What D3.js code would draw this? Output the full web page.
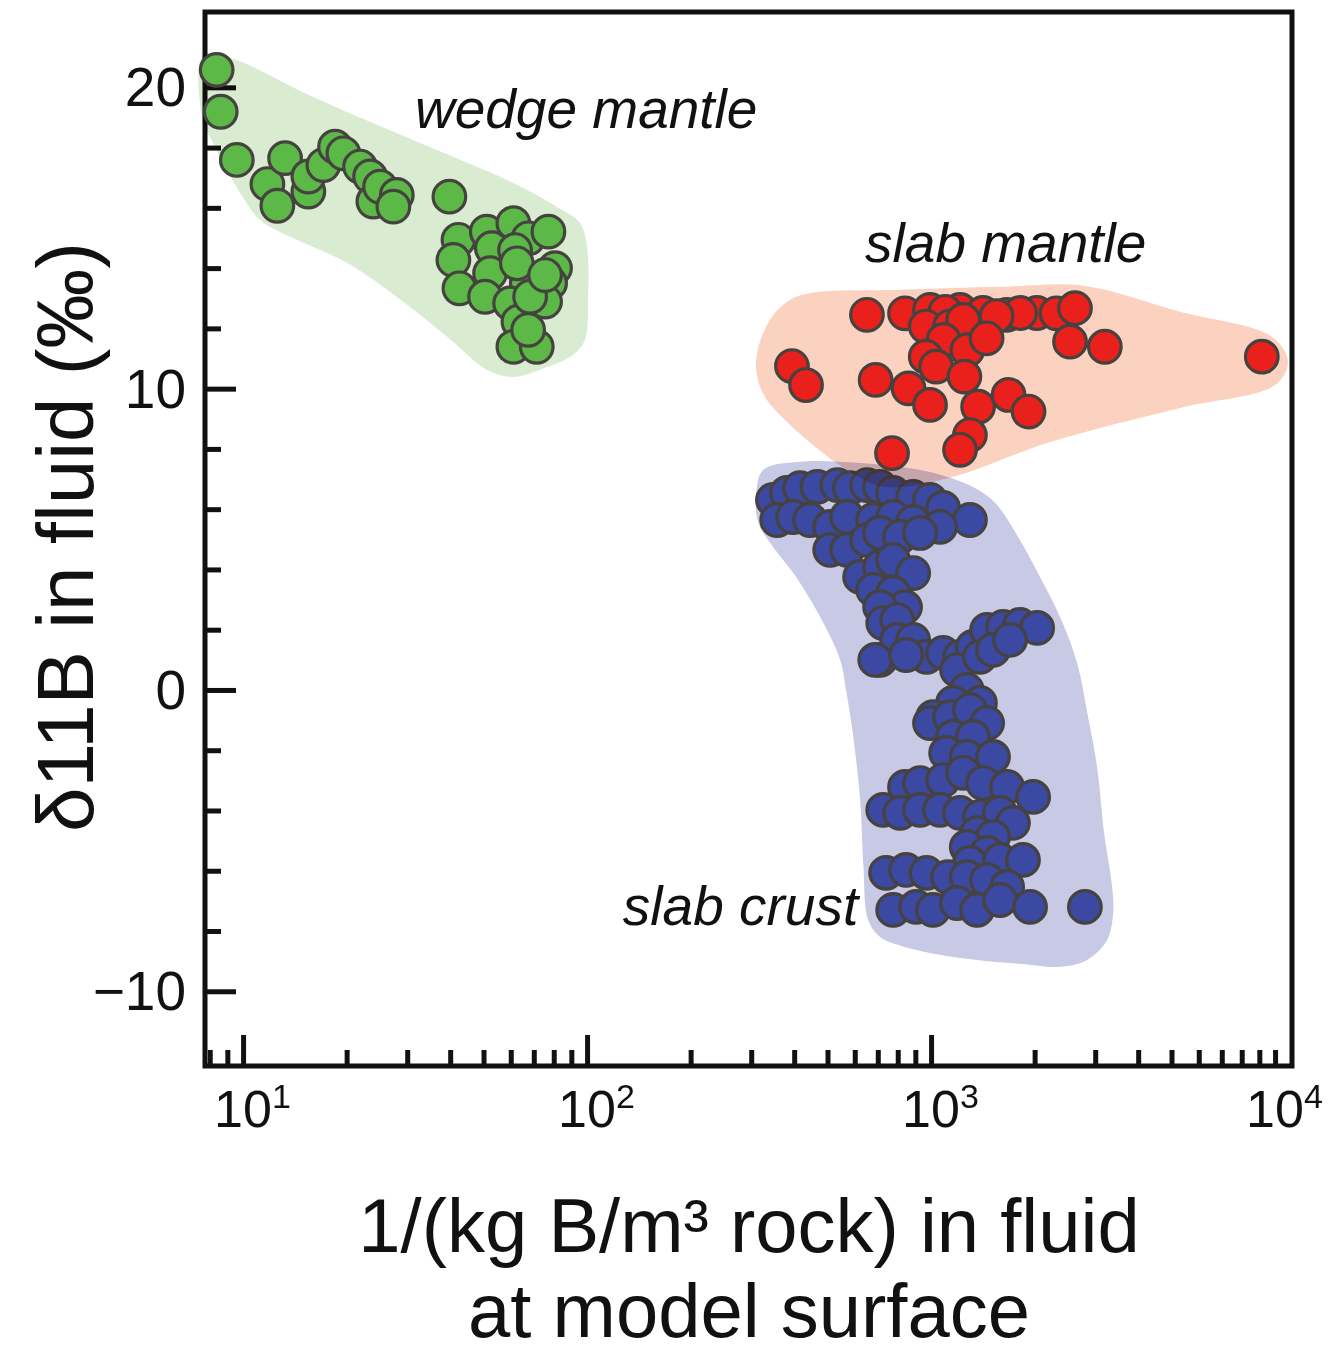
<!DOCTYPE html>
<html>
<head>
<meta charset="utf-8">
<script src="https://cdn.jsdelivr.net/npm/d3@7/dist/d3.min.js"></script>
<style>
  body { margin: 0; background: #fff; }
  text { font-family: "Liberation Sans", Arial, Helvetica, sans-serif; fill: #111; }
</style>
</head>
<body>
<div id="chart"></div>
<script>
// values: [1/(kg B/m3 rock), d11B permil]
var wedgeMantle = [
  [8.38,20.58],[8.61,19.19],[9.59,17.59],[11.77,16.79],[12.58,16.07],[13.25,17.65],
  [15.48,16.54],[15.48,17.04],[17.12,17.42],[18.51,18.03],[19.57,17.81],[21.88,17.37],
  [23.40,17.04],[23.92,16.21],[25.02,16.70],[27.98,16.43],[27.35,16.04],[39.79,16.37],
  [42.27,14.94],[40.87,14.27],[42.55,13.33],[51.1,15.21],[52.84,14.66],[52.24,13.83],
  [50.52,13.05],[61.06,15.49],[67.51,14.99],[61.75,14.60],[77.2,15.21],[80.7,14.0],
  [78.07,13.50],[75.5,12.89],[66.8,13.50],[63.87,12.72],[59.75,12.83],[63.15,12.22],
  [61.06,11.39],[71.4,11.39],[68.3,13.05],[62.5,14.16],[67.4,11.95],[75.5,13.77]
];

var slabCrust = [
  [347,6.31],[381,6.54],[416,6.70],[467,6.74],[534,6.80],[581,6.70],[652,6.80],[711,6.74],
  [776,6.54],[887,6.41],[993,6.31],[1084,6.04],[1297,5.64],
  [357,5.64],[397,5.74],[445,5.64],[509,5.41],[570,5.74],[679,5.64],[776,5.74],[887,5.58],[1062,5.41],
  [509,4.65],[570,4.65],[652,4.98],[711,5.21],[813,5.08],[929,5.21],
  [622,3.75],[711,4.08],[776,4.31],[887,3.88],[679,3.32],[776,3.22],[840,2.75],[711,2.75],
  [726,2.22],[797,2.32],[711,1.00],[797,1.66],[887,1.66],[970,1.10],[1084,1.23],[1214,1.10],
  [1323,1.43],[1455,1.99],[1620,2.09],[1814,2.16],[2034,2.06],[1190,0.66],[1387,1.10],[1514,1.33],
  [688,1.0],[846,1.16],[1697,1.66],
  [1270,0.0],[1387,-0.43],[1158,-0.43],[1013,-0.90],[993,-1.10],[1135,-0.90],[1297,-0.66],
  [1455,-1.10],[1158,-1.56],[1323,-1.56],[1106,-2.09],[1270,-2.22],[1514,-2.22],
  [840,-3.22],[929,-3.09],[1084,-2.99],[1240,-2.75],[1416,-3.09],[1664,-3.22],[1980,-3.55],
  [726,-3.98],[813,-4.08],[929,-3.98],[1062,-3.98],[1214,-4.08],[1387,-4.21],[1587,-4.08],[1730,-4.41],
  [1360,-4.75],[1514,-4.88],[1270,-5.21],[1455,-5.41],[1297,-5.74],[1587,-5.64],[1850,-5.64],
  [740,-6.07],[846,-5.97],[970,-6.07],[1120,-6.21],[1270,-6.21],[1455,-6.31],[1664,-6.54],
  [776,-7.30],[905,-7.20],[1013,-7.30],[1190,-7.07],[1360,-7.30],[1587,-6.97],[1940,-7.20],[2800,-7.20]
];

var slabMantle = [
  [651,12.45],[840,12.50],[993,12.61],[1214,12.61],[1415,12.51],[1660,12.45],[2030,12.51],
  [2315,12.50],[2620,12.67],[1814,12.51],[1100,12.55],[1550,12.41],[965,12.06],[1135,12.06],
  [1240,12.28],[1087,11.62],[1275,11.28],[1450,11.67],[965,11.06],[1035,10.73],[2535,11.56],
  [3200,11.39],[9150,11.06],[394,10.75],[433,10.12],[690,10.29],[860,10.01],[993,9.46],
  [1250,10.40],[1370,9.40],[1680,9.79],[1920,9.24],[1297,8.46],[1214,7.97],[770,7.86]
];

// outlines of the shaded fields, same units
var wedgeHull = [
  [7.65,21.08],[9.17,20.98],[15.98,19.68],[31.2,18.25],[60.9,16.83],[81.8,16.03],[95.4,15.50],
  [100,14.70],[100.7,13.04],[98.6,11.62],[91.0,11.12],[76.5,10.72],[60.9,10.39],[51.2,10.62],
  [39.2,11.72],[28.0,13.04],[20.1,14.17],[14.35,14.94],[11.2,15.60],[9.80,16.50],[8.75,17.49],
  [8.02,18.35],[7.65,18.82]
];
var slabMantleHull = [
  [451,13.18],[813,13.28],[1587,13.38],[2800,13.41],[5300,12.55],[9790,11.72],[10900,10.89],
  [10000,10.12],[5300,9.36],[2218,8.23],[1135,7.04],[730,6.74],[581,7.24],[389,8.80],
  [323,9.89],[310,10.95],[340,12.28],[389,12.94]
];
var slabCrustHull = [
  [325,7.30],[416,7.57],[622,7.53],[929,7.30],[1135,7.04],[1340,6.70],[1535,6.21],[1790,5.08],
  [2074,3.75],[2371,2.42],[2657,0.90],[2860,-0.90],[3038,-2.56],[3184,-4.75],[3360,-6.54],
  [3383,-7.40],[3248,-8.30],[2842,-8.96],[2371,-9.19],[1814,-9.09],[1158,-8.86],[840,-8.53],
  [711,-8.20],[656,-7.63],[636,-5.87],[622,-3.65],[592,-1.43],[566,0],[544,1.00],[476,2.42],
  [401,3.82],[347,4.75],[315,5.54],[310,6.47]
];

var yMajorTicks = [20, 10, 0, -10];
var yMinorTicks = [18, 16, 14, 12, 8, 6, 4, 2, -2, -4, -6, -8];
var xMajorTicks = [10, 100, 1000];
var xMinorTicks = [8, 9, 20, 30, 40, 50, 60, 70, 80, 90, 200, 300, 400, 500, 600, 700, 800, 900,
                   2000, 3000, 4000, 5000, 6000, 7000, 8000, 9000, 10000];
var xTickExponents = [1, 2, 3, 4];

var groups = [
  { name: "wedge mantle", pts: wedgeMantle, hull: wedgeHull, fill: "#5cb947", hullFill: "#d9ecd2" },
  { name: "slab crust", pts: slabCrust, hull: slabCrustHull, fill: "#3b49a2", hullFill: "#c8c9e5" },
  { name: "slab mantle", pts: slabMantle, hull: slabMantleHull, fill: "#e9201b", hullFill: "#fbd2c0" }
];

var width = 1333, height = 1353;
var plotLeft = 205, plotRight = 1292, plotTop = 12, plotBottom = 1066;

var svg = d3.select("#chart").append("svg")
  .attr("width", width)
  .attr("height", height);

var x = d3.scaleLog().domain([7.75, 11200]).range([plotLeft, plotRight]);
var y = d3.scaleLinear().domain([-12.48, 22.5]).range([plotBottom, plotTop]);

// ticks (inward)
function tickGroup(axis, transform) {
  var g = svg.append("g").attr("transform", transform).call(axis);
  g.select(".domain").remove();
  g.selectAll("line").attr("stroke", "#111").attr("stroke-width", 5);
  return g;
}
tickGroup(d3.axisBottom(x).tickValues(xMinorTicks).tickSize(-16).tickFormat(""), "translate(0," + plotBottom + ")");
tickGroup(d3.axisBottom(x).tickValues(xMajorTicks).tickSize(-31).tickFormat(""), "translate(0," + plotBottom + ")");
tickGroup(d3.axisLeft(y).tickValues(yMinorTicks).tickSize(-16).tickFormat(""), "translate(" + plotLeft + ",0)");
tickGroup(d3.axisLeft(y).tickValues(yMajorTicks).tickSize(-31).tickFormat(""), "translate(" + plotLeft + ",0)");

// frame
svg.append("rect")
  .attr("x", plotLeft).attr("y", plotTop)
  .attr("width", plotRight - plotLeft).attr("height", plotBottom - plotTop)
  .attr("fill", "none")
  .attr("stroke", "#111")
  .attr("stroke-width", 5);

// tick labels
svg.selectAll(".ylab").data(yMajorTicks).enter().append("text")
  .attr("class", "ylab")
  .attr("x", 186)
  .attr("y", function(d) { return y(d) + 19; })
  .attr("text-anchor", "end")
  .attr("font-size", 55)
  .text(function(d) { return d < 0 ? "\u2212" + Math.abs(d) : d; });

var xl = svg.selectAll(".xlab").data(xTickExponents).enter().append("text")
  .attr("class", "xlab")
  .attr("x", function(d) { return x(Math.pow(10, d)) - 29; })
  .attr("y", 1127)
  .attr("font-size", 52);
xl.append("tspan").text("10");
xl.append("tspan").attr("font-size", 34).attr("dy", -19).text(function(d) { return d; });

// fields and points
var line = d3.line()
  .x(function(d) { return x(d[0]); })
  .y(function(d) { return y(d[1]); })
  .curve(d3.curveCatmullRomClosed.alpha(0.5));

groups.forEach(function(gr) {
  svg.append("path")
    .attr("d", line(gr.hull))
    .attr("fill", gr.hullFill)
    .style("mix-blend-mode", "multiply");
  svg.append("g").selectAll("circle")
    .data(gr.pts)
    .enter()
    .append("circle")
    .attr("cx", function(d) { return x(d[0]); })
    .attr("cy", function(d) { return y(d[1]); })
    .attr("r", 16.3)
    .attr("fill", gr.fill)
    .attr("stroke", "#45423f")
    .attr("stroke-width", 3.2);
});

// group labels
svg.append("text").attr("x", x(31.6)).attr("y", y(18.65))
  .attr("font-size", 55).attr("font-style", "italic").text("wedge mantle");
svg.append("text").attr("x", x(643)).attr("y", y(14.2))
  .attr("font-size", 55).attr("font-style", "italic").text("slab mantle");
svg.append("text").attr("x", x(614)).attr("y", y(-7.8)).attr("text-anchor", "end")
  .attr("font-size", 55).attr("font-style", "italic").text("slab crust");

// axis titles
svg.append("text")
  .attr("transform", "translate(93,537) rotate(-90)")
  .attr("text-anchor", "middle")
  .attr("font-size", 80)
  .text("\u03b411B in fluid (\u2030)");

var xt = svg.append("text")
  .attr("text-anchor", "middle")
  .attr("font-size", 76);
xt.append("tspan").attr("x", 749).attr("y", 1252).text("1/(kg B/m\u00b3 rock) in fluid");
xt.append("tspan").attr("x", 749).attr("y", 1337).text("at model surface");
</script>
</body>
</html>
